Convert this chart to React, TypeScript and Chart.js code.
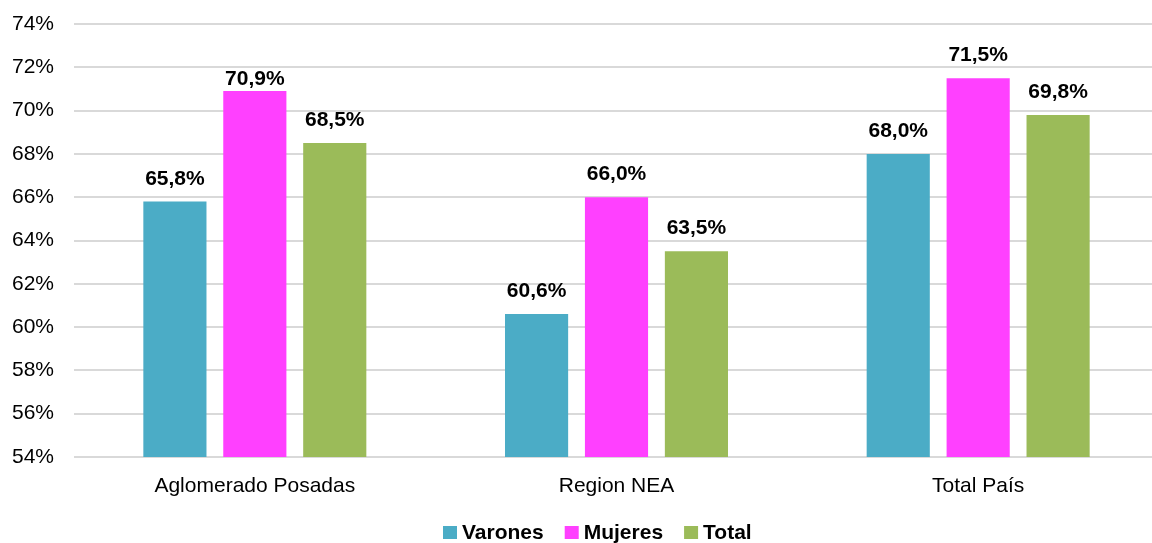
import React, { useEffect, useRef } from "react";
import { Chart, registerables } from "chart.js";
Chart.register(...registerables);

const categories = ["Aglomerado Posadas", "Region NEA", "Total País"];
const varones = [65.8, 60.6, 68.0];
const mujeres = [70.9, 66.0, 71.5];
const total = [68.5, 63.5, 69.8];
const seriesNames = ["Varones", "Mujeres", "Total"];
const seriesColors = ["#4BACC6", "#FF40FF", "#9BBB59"];
const yMin = 54;
const yMax = 74;
const yStep = 2;

const FONT = '"Liberation Sans", Arial, Helvetica, sans-serif';

const fmt = (v: number) => v.toFixed(1).replace(".", ",") + "%";

const valueLabels = {
  id: "valueLabels",
  afterDatasetsDraw(chart: any, _args: any, opts: any) {
    const ctx = chart.ctx;
    const offset = opts.offset ?? 17;
    const overrides = opts.overrides || {};
    ctx.save();
    ctx.font = `bold 21px ${FONT}`;
    ctx.fillStyle = "#000";
    ctx.textAlign = "center";
    ctx.textBaseline = "alphabetic";
    chart.data.datasets.forEach((ds: any, i: number) => {
      const meta = chart.getDatasetMeta(i);
      meta.data.forEach((el: any, j: number) => {
        const off = overrides[`${i}-${j}`] ?? offset;
        ctx.fillText(fmt(ds.data[j]), el.x, el.y - off);
      });
    });
    ctx.restore();
  },
};

const customLegend = {
  id: "customLegend",
  afterDraw(chart: any) {
    const ctx = chart.ctx;
    ctx.save();
    ctx.font = `bold 21px ${FONT}`;
    ctx.textAlign = "left";
    ctx.textBaseline = "alphabetic";
    let x = 443;
    const baseline = 539;
    chart.data.datasets.forEach((ds: any) => {
      ctx.fillStyle = ds.backgroundColor;
      ctx.fillRect(x, 526, 14, 13);
      ctx.fillStyle = "#000";
      const tx = x + 19;
      ctx.fillText(ds.label, tx, baseline);
      x = tx + ctx.measureText(ds.label).width + 21;
    });
    ctx.restore();
  },
};

export default function App() {
  const ref = useRef<HTMLCanvasElement | null>(null);
  useEffect(() => {
    if (!ref.current) return;
    const seriesData = [varones, mujeres, total];
    const chart = new Chart(ref.current, {
      type: "bar",
      data: {
        labels: categories,
        datasets: seriesNames.map((name, i) => ({
          label: name,
          data: seriesData[i],
          backgroundColor: seriesColors[i],
          borderWidth: 0,
          categoryPercentage: 0.663,
          barPercentage: 0.79,
        })),
      },
      options: {
        responsive: false,
        animation: false,
        layout: { padding: { top: 24, right: 1, bottom: 46, left: 0 } },
        plugins: {
          legend: { display: false },
          tooltip: { enabled: false },
          valueLabels: { offset: 17, overrides: { "1-0": 6 } },
        } as any,
        scales: {
          x: {
            grid: { display: false, drawTicks: false },
            border: { display: false },
            ticks: { font: { family: FONT, size: 21 }, color: "#000", padding: 17 },
            afterFit: (s: any) => {
              s.height = 40;
              s.paddingLeft = 0;
              s.paddingRight = 0;
            },
          },
          y: {
            min: yMin,
            max: yMax,
            grid: { color: "#D9D9D9", lineWidth: 2, drawTicks: false },
            border: { display: false },
            ticks: {
              stepSize: yStep,
              font: { family: FONT, size: 21 },
              color: "#000",
              padding: 20,
              callback: (v: any) => v + "%",
            },
            afterFit: (s: any) => {
              s.width = 74;
              s.paddingTop = 0;
              s.paddingBottom = 0;
            },
          },
        },
      },
      plugins: [valueLabels, customLegend],
    });
    return () => chart.destroy();
  }, []);
  return (
    <div
      style={{
        position: "fixed",
        left: 0,
        top: 0,
        width: 1152,
        height: 543,
        overflow: "hidden",
        background: "#fff",
      }}
    >
      <canvas ref={ref} width={1160} height={543} style={{ display: "block" }} />
    </div>
  );
}
